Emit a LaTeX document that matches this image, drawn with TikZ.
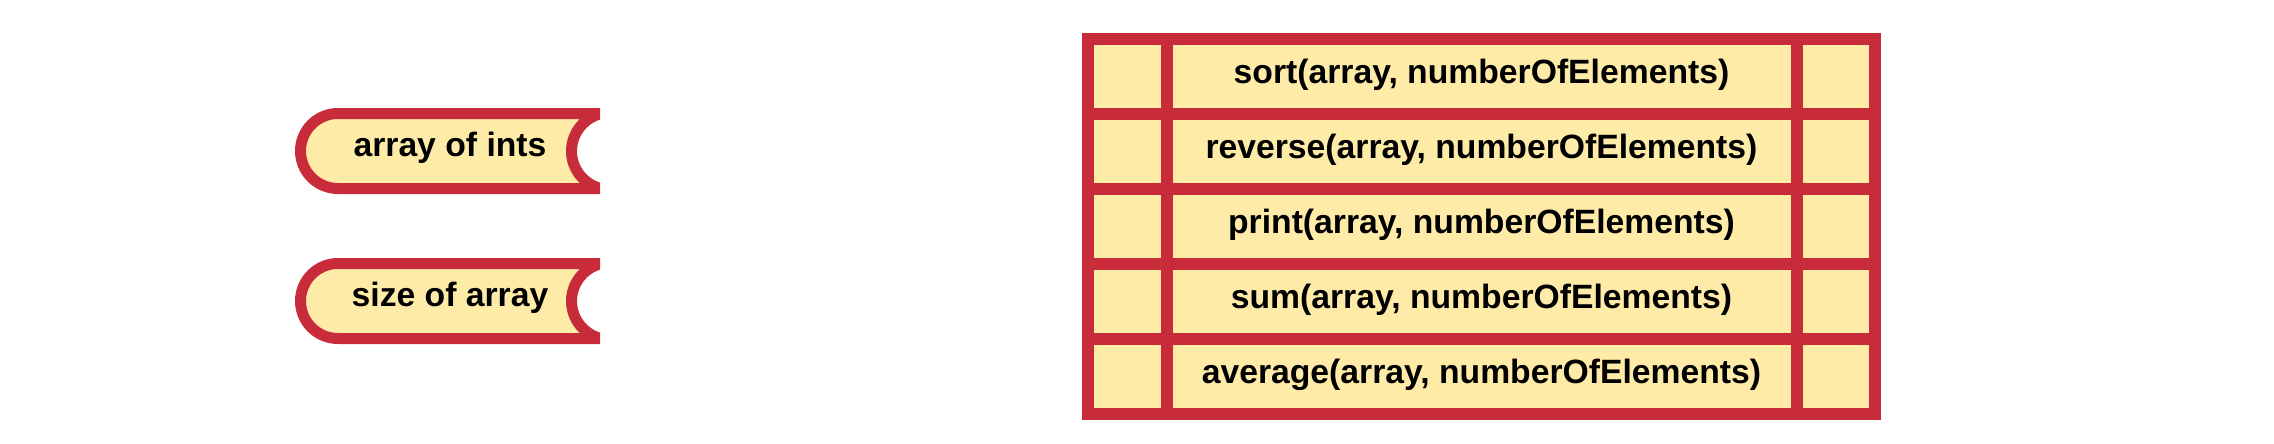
\documentclass[tikz,border=0pt]{standalone}
\usepackage{fontspec}
\setmainfont{Liberation Sans}
\definecolor{blockred}{RGB}{200,44,58}
\definecolor{blockfill}{RGB}{254,235,168}
\tikzset{
  pill/.style={draw=blockred, fill=blockfill, line width=11pt, line join=round},
  grid/.style={draw=blockred, line width=12pt},
  label/.style={inner sep=0pt, anchor=base, text=black, font=\fontsize{33.7}{40}\selectfont\bfseries},
}
\begin{document}
\begin{tikzpicture}[x=1pt, y=-1pt]
\useasboundingbox (0,0) rectangle (2274,444);
% pills
\begin{scope}
  \clip (280,90) rectangle (600,360);
  \path[pill] (601,113.5) -- (338,113.5) arc[start angle=270, end angle=90, radius=37.5]
     -- (601,188.5) arc[start angle=103.5, end angle=256.5, radius=38.5] -- cycle;
  \path[pill] (601,263.5) -- (338,263.5) arc[start angle=270, end angle=90, radius=37.5]
     -- (601,338.5) arc[start angle=103.5, end angle=256.5, radius=38.5] -- cycle;
\end{scope}
\node[label] (ints) at (450,156.5) {array of ints};
\node[label] (size) at (450,306.5) {size of array};
% table
\path[grid, fill=blockfill] (1087.5,39) rectangle (1875,413.5);
\foreach \yy in {114,189,264,339} {
  \draw[grid] (1087.5,\yy) -- (1875,\yy);
}
\draw[grid] (1166.5,39) -- (1166.5,413.5);
\draw[grid] (1796.5,39) -- (1796.5,413.5);
\node[label] (sort) at (1481.5,83.5) {sort(array, numberOfElements)};
\node[label] (reverse) at (1481.5,158.5) {reverse(array, numberOfElements)};
\node[label] (print) at (1481.5,233.5) {print(array, numberOfElements)};
\node[label] (sum) at (1481.5,308.5) {sum(array, numberOfElements)};
\node[label] (average) at (1481.5,383.5) {average(array, numberOfElements)};
\end{tikzpicture}
\end{document}
